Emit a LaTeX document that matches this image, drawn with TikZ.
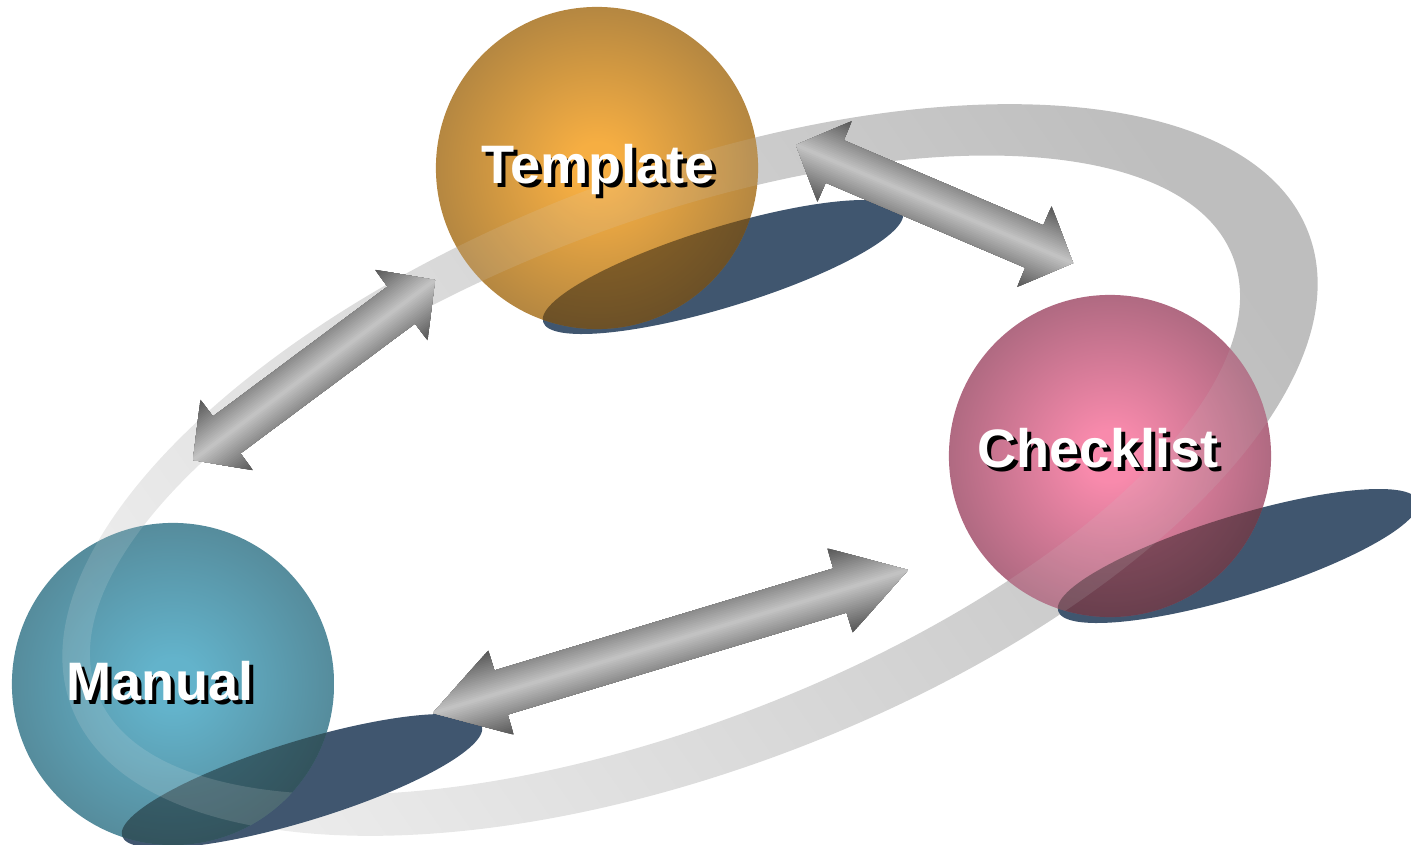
\documentclass[tikz,border=0pt]{standalone}
\usepackage{fontspec}
\newfontfamily\lblfont{Liberation Sans}
\usepackage{xcolor}
\usepackage{tikz}
\usetikzlibrary{calc}

\definecolor{tplin}{HTML}{F6AE42}
\definecolor{tplout}{HTML}{7A6440}
\definecolor{chkin}{HTML}{F88AAC}
\definecolor{chkout}{HTML}{7A5262}
\definecolor{manin}{HTML}{63B3CB}
\definecolor{manout}{HTML}{4A6972}
\definecolor{shadowblue}{HTML}{40566F}
\definecolor{ringdark}{HTML}{BEBEBE}
\definecolor{ringlight}{HTML}{EDEDED}
\definecolor{arrowhi}{HTML}{C6C6C6}
\definecolor{arrowlo}{HTML}{555555}

\pgfdeclareradialshading{tpl-ball}{\pgfpointorigin}{color(0bp)=(tplin); color(4bp)=(tplin); color(26bp)=(tplin!45!tplout); color(46bp)=(tplout); color(50bp)=(tplout)}
\pgfdeclareradialshading{chk-ball}{\pgfpointorigin}{color(0bp)=(chkin); color(4bp)=(chkin); color(26bp)=(chkin!40!chkout); color(46bp)=(chkout); color(50bp)=(chkout)}
\pgfdeclareradialshading{man-ball}{\pgfpointorigin}{color(0bp)=(manin); color(4bp)=(manin); color(26bp)=(manin!45!manout); color(46bp)=(manout); color(50bp)=(manout)}

\newcommand\ringpath{%
  (690,470) circle [x radius=6.62cm, y radius=2.98cm, rotate=21]
  (665,475) circle [x radius=6.08cm, y radius=2.5cm, rotate=21]}

\newcommand\twoway[3]{%
  \coordinate (h1) at ($(#1)!#3!(#2)$);
  \coordinate (h2) at ($(#2)!#3!(#1)$);
  \begin{scope}
    \clip (#1) -- ($(h1)!.44cm!90:(#2)$) -- ($(h1)!.23cm!90:(#2)$)
      -- ($(h2)!.23cm!-90:(#1)$) -- ($(h2)!.44cm!-90:(#1)$) -- (#2)
      -- ($(h2)!.44cm!90:(#1)$) -- ($(h2)!.23cm!90:(#1)$)
      -- ($(h1)!.23cm!-90:(#2)$) -- ($(h1)!.44cm!-90:(#2)$) -- cycle;
    \foreach \i [evaluate=\i as \w using .9-.036*\i,
                 evaluate=\i as \p using int(4*\i)] in {0,...,24}
      \draw[line width=\w cm, arrowhi!\p!arrowlo] (#1) -- (#2);
  \end{scope}}

\begin{document}
\begin{tikzpicture}[x=0.01cm, y=-0.01cm,
    ball/.style={circle, minimum size=3.22cm, inner sep=0pt, shade},
    band/.style={even odd rule, top color=ringdark, bottom color=ringlight, shading angle=-55},
    lbl/.style={anchor=base, inner sep=0pt, text=white,
      font=\lblfont\bfseries\fontsize{15.4}{18}\selectfont}]
  \useasboundingbox (0,0) rectangle (1411,845);

  \shade[band] \ringpath;

  \foreach \nm/\x/\y/\sx/\sy in {tpl/597/168/723/267, chk/1110/456/1238/556, man/173/684/302/781} {
    \fill[shadowblue, rotate around={17:(\sx,\sy)}] (\sx,\sy) ellipse [x radius=1.88cm, y radius=.4cm];
    \node[ball, shading=\nm-ball] (\nm) at (\x,\y) {};
    \begin{scope}
      \clip (\nm) circle [radius=1.61cm];
      \fill[black, opacity=.4, rotate around={17:(\sx,\sy)}] (\sx,\sy) ellipse [x radius=1.88cm, y radius=.4cm];
      \shade[band, opacity=.15] \ringpath;
    \end{scope}
  }

  \foreach \nm/\x/\y/\t in {tpl/598/183/Template, chk/1098/467/Checklist, man/160/700/Manual} {
    \node[lbl, text=black] (\nm-sh) at (\x+4,\y+4) {\t};
    \node[lbl] (\nm-txt) at (\x,\y) {\t};
  }

  \coordinate (mt) at (193,460);
  \coordinate (tm) at (435,280);
  \coordinate (tc) at (796,145);
  \coordinate (ct) at (1073,263);
  \coordinate (mc) at (433,713);
  \coordinate (cm) at (908,570);
  \twoway{mt}{tm}{.42cm}
  \twoway{tc}{ct}{.42cm}
  \twoway{mc}{cm}{.71cm}
\end{tikzpicture}
\end{document}
